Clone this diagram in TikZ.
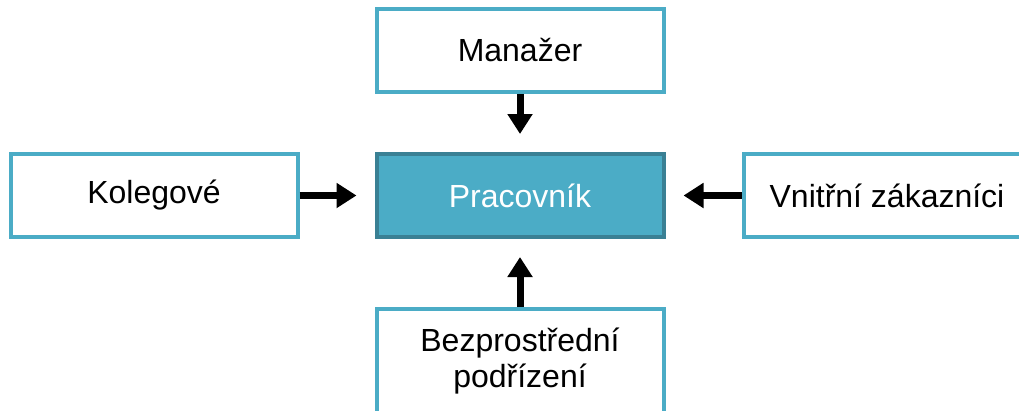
\documentclass[tikz,border=0pt]{standalone}
\usepackage{fontspec}
\setmainfont{Liberation Sans}
\usetikzlibrary{positioning,arrows.meta}
\definecolor{boxblue}{RGB}{75,172,198}
\definecolor{boxdark}{RGB}{58,128,148}
\tikzset{
  role/.style={draw=boxblue, line width=4pt, fill=white, minimum width=287pt,
               minimum height=83pt, inner sep=0pt, align=center,
               font=\fontsize{32}{36}\selectfont},
  worker/.style={role, draw=boxdark, fill=boxblue, text=white},
  link/.style={line width=7pt, -{Triangle[length=20pt,width=24pt]}, shorten >=18pt}
}

\begin{document}
\begin{tikzpicture}
    \useasboundingbox (0pt,0pt) rectangle (1019pt,-410pt);

    \node[worker] (prac) at (520pt,-195.5pt) {Pracovník};
    \node[role, above=58pt of prac] (man) {Manažer};
    \node[role, left=75pt of prac] (kol) {Kolegové};
    \node[role, right=76pt of prac] (zak) {Vnitřní zákazníci};
    \node[role, below=68pt of prac, minimum height=104pt] (pod) {Bezprostřední\\podřízení};

    % arrows towards the worker
    \draw[link] (man) -- (prac);
    \draw[link] (kol) -- (prac);
    \draw[link] (zak) -- (prac);
    \draw[link] (pod) -- (prac);
\end{tikzpicture}
\end{document}
